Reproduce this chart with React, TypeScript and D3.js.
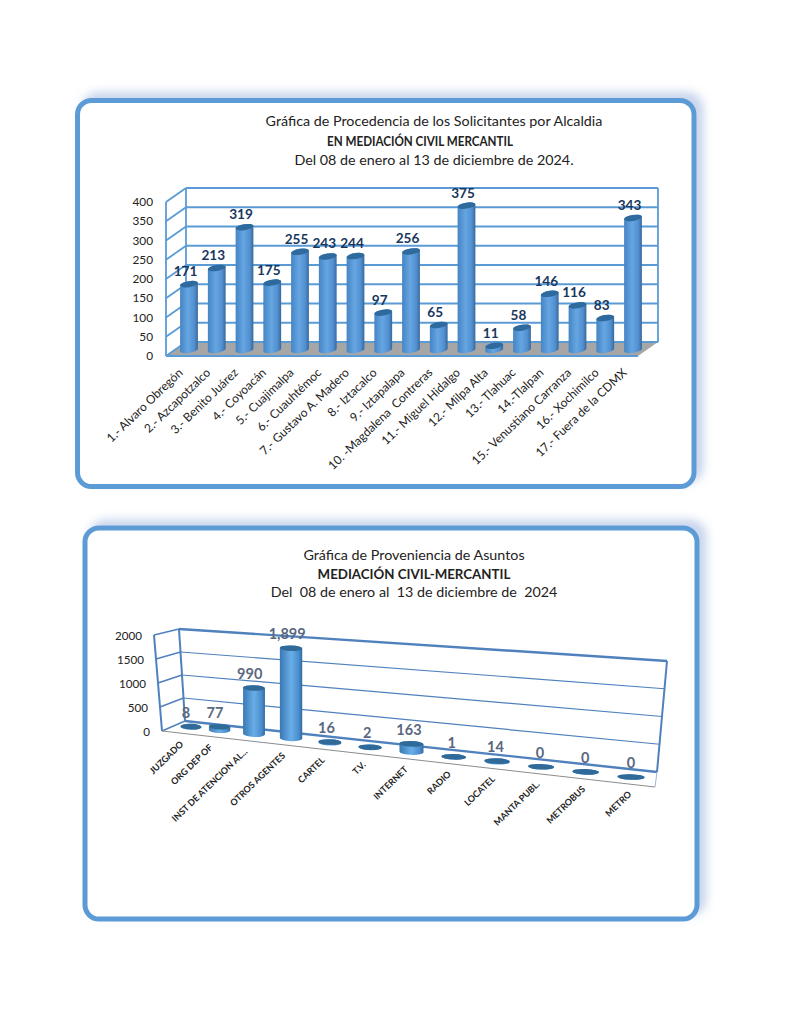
import React from 'react'
import * as d3 from 'd3'

const alcaldias = [
  '1.- Alvaro Obregón', '2.- Azcapotzalco', '3.- Benito Juárez', '4.- Coyoacán', '5.- Cuajimalpa',
  '6.- Cuauhtémoc', '7.- Gustavo A. Madero', '8.- Iztacalco', '9.- Iztapalapa', '10. -Magdalena  Contreras',
  '11.- Miguel Hidalgo', '12.- Milpa Alta', '13.- Tlahuac', '14.-Tlalpan', '15.- Venustiano Carranza',
  '16.- Xochimilco', '17.- Fuera de la CDMX'
]
const solicitantes = [171, 213, 319, 175, 255, 243, 244, 97, 256, 65, 375, 11, 58, 146, 116, 83, 343]
const ticks1 = [0, 50, 100, 150, 200, 250, 300, 350, 400]

const medios = [
  'JUZGADO', 'ORG DEP OF', 'INST DE ATENCION AL...', 'OTROS AGENTES', 'CARTEL', 'T.V.',
  'INTERNET', 'RADIO', 'LOCATEL', 'MANTA PUBL.', 'METROBUS', 'METRO'
]
const asuntos = [8, 77, 990, 1899, 16, 2, 163, 1, 14, 0, 0, 0]
const ticks2 = [0, 500, 1000, 1500, 2000]

const FONT = 'Lato, "Open Sans", sans-serif'
const BLUE = '#5b9bd5'
const WALL = '#4f81bd'

// cylinder body with a tilted top and bottom ellipse
const cylinder = (cx: number, base: number, h: number, rx: number, ry: number, tilt: number) => {
  const a = (tilt * Math.PI) / 180
  const dx = rx * Math.cos(a)
  const dy = rx * Math.sin(a)
  const top = base - h
  return `M${cx - dx},${top + dy}L${cx - dx},${base + dy}A${rx},${ry} ${-tilt} 0 0 ${cx + dx},${base - dy}L${cx + dx},${top - dy}A${rx},${ry} ${-tilt} 0 0 ${cx - dx},${top + dy}Z`
}

const Frame = ({ x, y, w, h }: { x: number; y: number; w: number; h: number }) => (
  <rect x={x} y={y} width={w} height={h} rx={14} fill="#fff" stroke={BLUE} strokeWidth={5} filter="url(#sombra)" />
)

const Alcaldias = () => {
  const x = d3.scalePoint<string>().domain(alcaldias).range([189, 633])
  const y = d3.scaleLinear().domain([0, 400]).range([356, 202])
  const h = d3.scaleLinear().domain([0, 400]).range([0, 154])
  const depthX = 20
  const depthY = 14
  const baseY = 350
  return (
    <g fontFamily={FONT}>
      <Frame x={77.5} y={100.5} w={616.5} h={386} />
      <g textAnchor="middle" fill="#222" fontSize={14.3}>
        <text x={434} y={126}>Gráfica de Procedencia de los Solicitantes por Alcaldia</text>
        <text x={420} y={146} fontWeight={700} fontSize={13.6} textLength={186} lengthAdjust="spacingAndGlyphs">EN MEDIACIÓN CIVIL MERCANTIL</text>
        <text x={434} y={165}>Del 08 de enero al 13 de diciembre de 2024.</text>
      </g>
      <polygon
        points={`166,${y(0)} ${638},${y(0)} ${658},${y(0) - depthY} ${166 + depthX},${y(0) - depthY}`}
        fill="#a6a6a6"
      />
      {ticks1.map((t) => (
        <g key={t} stroke={BLUE} strokeWidth={1.8} fill="none">
          <line x1={166} y1={y(t)} x2={166 + depthX} y2={y(t) - depthY} />
          <line x1={166 + depthX} y1={y(t) - depthY} x2={658} y2={y(t) - depthY} />
        </g>
      ))}
      <g stroke={BLUE} strokeWidth={1.8} fill="none">
        <line x1={166} y1={y(0)} x2={166} y2={y(400)} />
        <line x1={166 + depthX} y1={y(0) - depthY} x2={166 + depthX} y2={y(400) - depthY} />
        <line x1={658} y1={y(0) - depthY} x2={658} y2={y(400) - depthY} />
        <line x1={166} y1={y(0)} x2={638} y2={y(0)} />
      </g>
      <g textAnchor="end" fontSize={11.8} fill="#222">
        {ticks1.map((t) => (
          <text key={t} x={153} y={y(t)} dy="0.36em">{t}</text>
        ))}
      </g>
      {alcaldias.map((name, i) => {
        const cx = x(name) as number
        const top = baseY - h(solicitantes[i])
        return (
          <g key={name}>
            <path d={cylinder(cx, baseY, h(solicitantes[i]), 9, 3, 9)} fill="url(#cil1)" />
            <ellipse cx={cx} cy={top} rx={9} ry={3} transform={`rotate(-9 ${cx} ${top})`} fill="#2f6a9e" />
            <text x={cx - 3.5} y={top - 13} dy="0.36em" textAnchor="middle" fontSize={13.6} fontWeight={700} fill="#17375e">
              {solicitantes[i]}
            </text>
            <text
              transform={`translate(${cx - 5.5},${373.5}) rotate(-44)`}
              textAnchor="end"
              fontSize={12}
              fill="#222"
              style={{ whiteSpace: 'pre' }}
            >
              {name}
            </text>
          </g>
        )
      })}
    </g>
  )
}

const Medios = () => {
  const idx = d3.scaleLinear().domain([0, 11]).range([0, 11])
  const x = d3.scalePow().exponent(1.14).domain([0, 11]).range([191, 631])
  const base = d3.scaleLinear().domain([191, 631]).range([727, 777])
  const alto = d3.scaleLinear().domain([185, 657]).range([90, 112])
  const radio = d3.scaleLinear().domain([191, 631]).range([10.5, 13.5])
  const lblDx = d3.scaleLinear().domain([191, 631]).range([-7, 1])
  const valDx = d3.scaleLinear().domain([191, 631]).range([-5, 0])
  const backL = d3.scaleLinear().domain([0, 2000]).range([721, 629])
  const backR = d3.scaleLinear().domain([0, 2000]).range([772, 661])
  const backLx = d3.scaleLinear().domain([0, 2000]).range([185, 179])
  const backRx = d3.scaleLinear().domain([0, 2000]).range([657, 667])
  const frontY = d3.scaleLinear().domain([0, 2000]).range([731, 635])
  const frontX = d3.scaleLinear().domain([0, 2000]).range([162, 154])
  const fmt = d3.format(',')
  return (
    <g fontFamily={FONT}>
      <Frame x={85} y={528} w={612} h={391} />
      <g textAnchor="middle" fill="#222" fontSize={14.3}>
        <text x={414} y={560}>Gráfica de Proveniencia de Asuntos</text>
        <text x={414} y={579} fontWeight={700} fontSize={13.3}>MEDIACIÓN CIVIL-MERCANTIL</text>
        <text x={414} y={597} style={{ whiteSpace: 'pre' }}>Del  08 de enero al  13 de diciembre de  2024</text>
      </g>
      {ticks2.map((t) => {
        const edge = t === 0 || t === 2000
        return (
          <g key={t} stroke={WALL} fill="none" strokeWidth={edge ? 2.4 : 1.2}>
            <line x1={frontX(t)} y1={frontY(t)} x2={backLx(t)} y2={backL(t)} strokeWidth={1.4} />
            <line x1={backLx(t)} y1={backL(t)} x2={backRx(t)} y2={backR(t)} />
          </g>
        )
      })}
      <g stroke={WALL} fill="none" strokeWidth={2}>
        <line x1={frontX(0)} y1={frontY(0)} x2={frontX(2000)} y2={frontY(2000)} />
        <line x1={backLx(0)} y1={backL(0)} x2={backLx(2000)} y2={backL(2000)} />
        <line x1={backRx(0)} y1={backR(0)} x2={backRx(2000)} y2={backR(2000)} />
      </g>
      <line x1={frontX(0)} y1={frontY(0)} x2={655} y2={787} stroke="#8c8c8c" strokeWidth={1} />
      <line x1={655} y1={787} x2={backRx(0)} y2={backR(0)} stroke="#9db7d5" strokeWidth={1} />
      <g textAnchor="end" fontSize={11.6} fill="#222">
        {ticks2.map((t) => (
          <text key={t} x={frontX(t) - 12} y={frontY(t) + 1} dy="0.36em">{t}</text>
        ))}
      </g>
      {medios.map((name, i) => {
        const cx = x(idx(i))
        const b = base(cx)
        const rx = radio(cx)
        const hh = (alto(cx) * asuntos[i]) / 2000
        const top = b - hh
        return (
          <g key={name}>
            <path d={cylinder(cx, b, hh, rx, 2.8, -2)} fill="url(#cil2)" />
            <ellipse cx={cx} cy={top} rx={rx} ry={2.8} transform={`rotate(2 ${cx} ${top})`} fill="#2f6a99" />
            <text x={cx + valDx(cx)} y={top - 14} dy="0.36em" textAnchor="middle" fontSize={14.5} fontWeight={700} fill="#5a6880">
              {fmt(asuntos[i])}
            </text>
            <text
              transform={`translate(${cx + lblDx(cx)},${b + 18}) rotate(-44)`}
              textAnchor="end"
              fontSize={9}
              fontWeight={700}
              fill="#222"
            >
              {name}
            </text>
          </g>
        )
      })}
    </g>
  )
}

export default function App() {
  return (
    <svg width={791} height={1024} style={{ position: 'absolute', left: 0, top: 0, background: '#fff' }}>
      <defs>
        <filter id="sombra" x="-5%" y="-7%" width="110%" height="114%">
          <feDropShadow dx={7} dy={-6} stdDeviation={5} floodColor="#b5c6e6" floodOpacity={0.75} />
        </filter>
        <linearGradient id="cil1" x1="0" x2="1" y1="0" y2="0">
          <stop offset="0" stopColor="#4684c4" />
          <stop offset="0.45" stopColor="#65a6e2" />
          <stop offset="0.8" stopColor="#528fd0" />
          <stop offset="1" stopColor="#36699c" />
        </linearGradient>
        <linearGradient id="cil2" x1="0" x2="1" y1="0" y2="0">
          <stop offset="0" stopColor="#3a78b4" />
          <stop offset="0.5" stopColor="#69aee8" />
          <stop offset="0.85" stopColor="#4a8ccc" />
          <stop offset="1" stopColor="#2f6a9f" />
        </linearGradient>
      </defs>
      <Alcaldias />
      <Medios />
    </svg>
  )
}
